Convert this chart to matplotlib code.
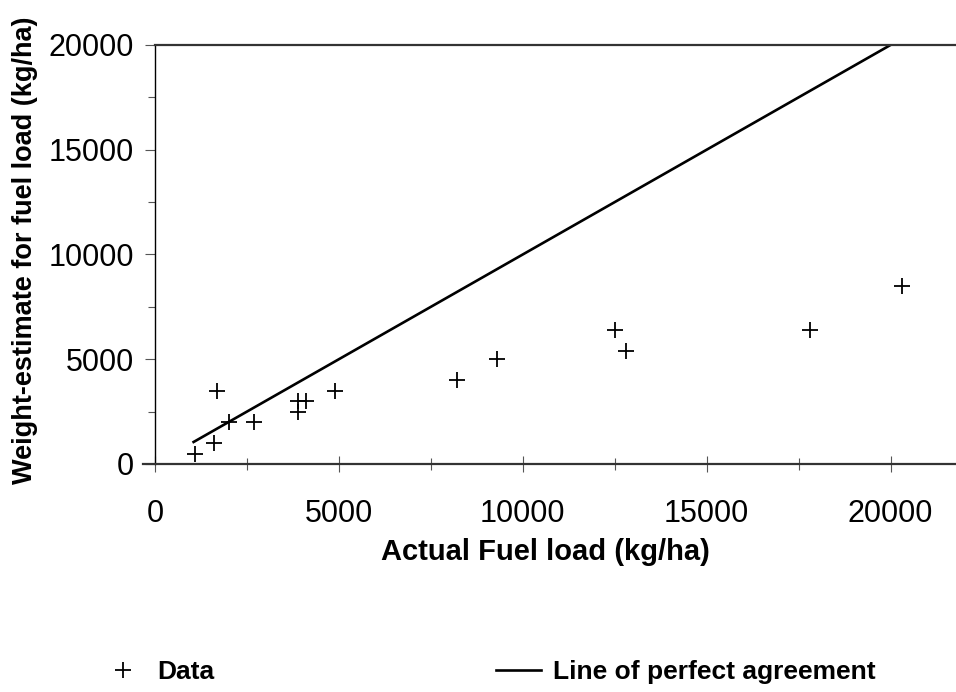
import matplotlib
matplotlib.use("Agg")
import matplotlib.pyplot as plt
from matplotlib.ticker import MultipleLocator

plt.rcParams['font.family'] = ['Liberation Sans', 'DejaVu Sans']

# actual fuel load vs weight estimate (kg/ha)
actual = [1100, 1600, 1700, 2000, 2700, 3900, 3900, 4100, 4900,
          8200, 9300, 12500, 12800, 17800, 20300]
estimate = [500, 1000, 3500, 2000, 2000, 2500, 3000, 3000, 3500,
            4000, 5000, 6400, 5400, 6400, 8500]
# line of perfect agreement
line_x = [1050, 20000]
line_y = [1050, 20000]

fig = plt.figure(figsize=(9.56, 6.92), dpi=100)
ax = fig.add_axes([0.1621, 0.3295, 0.8379, 0.6055])

pts, = ax.plot(actual, estimate, linestyle='none', marker='+', color='black',
               markersize=11, markeredgewidth=1.3, label='Data')
ln, = ax.plot(line_x, line_y, color='black', linewidth=1.9,
              label='Line of perfect agreement')

ax.set_xlim(0, 21780)
ax.set_ylim(0, 20000)
ax.xaxis.set_major_locator(MultipleLocator(5000))
ax.xaxis.set_minor_locator(MultipleLocator(2500))
ax.yaxis.set_major_locator(MultipleLocator(5000))
ax.yaxis.set_minor_locator(MultipleLocator(2500))

ax.spines['right'].set_visible(False)
ax.spines['left'].set_linewidth(1.0)
ax.spines['top'].set_linewidth(1.6)
ax.spines['bottom'].set_linewidth(1.6)
for s in ['top', 'bottom']:
    ax.spines[s].set_color('#333333')
ax.spines['bottom'].set_bounds(-330, 21780)

ax.tick_params(axis='x', which='major', direction='inout', length=12, width=0.8,
               color='#555555', labelsize=22, pad=19)
ax.tick_params(axis='x', which='minor', direction='inout', length=8, width=0.8,
               color='#555555')
ax.tick_params(axis='y', which='major', direction='out', length=7, width=0.8,
               color='#555555', labelsize=22, pad=8)
ax.tick_params(axis='y', which='minor', direction='out', length=5, width=0.8,
               color='#555555')

ax.set_xlabel('Actual Fuel load (kg/ha)', fontsize=21, fontweight='bold')
ax.set_ylabel('Weight-estimate for fuel load (kg/ha)', fontsize=19.5,
              fontweight='bold')
ax.xaxis.set_label_coords(0.487, -0.176)
ax.yaxis.set_label_coords(-0.146, 0.51)

fig.legend(handles=[pts, ln], loc='center left', bbox_to_anchor=(0.091, 0.029),
           ncol=2, frameon=False, prop={'size': 19, 'weight': 'bold'},
           borderpad=0, handlelength=1.7, handletextpad=0.45, columnspacing=10.7)

fig.savefig('out.png', dpi=100)
